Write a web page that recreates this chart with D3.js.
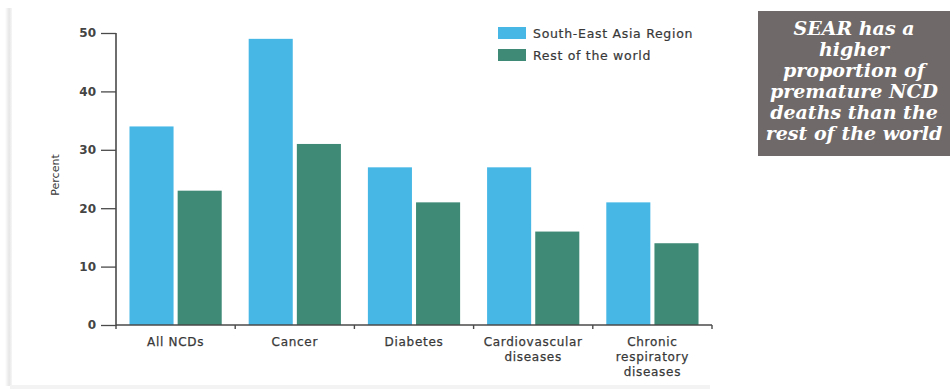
<!DOCTYPE html>
<html>
<head>
<meta charset="utf-8">
<script src="https://cdn.jsdelivr.net/npm/d3@7"></script>
<style>
  html, body { margin: 0; padding: 0; background: #fff; }
  svg { display: block; }
</style>
</head>
<body>
<svg id="chart" width="950" height="389"></svg>
<script>
// Share of NCD deaths that are premature, by cause
const categories = [
  ["All NCDs"],
  ["Cancer"],
  ["Diabetes"],
  ["Cardiovascular", "diseases"],
  ["Chronic", "respiratory", "diseases"]
];
const seriesNames = ["South-East Asia Region", "Rest of the world"];
const searValues = [34, 49, 27, 27, 21];
const restValues = [23, 31, 21, 16, 14];
const yTicks = [0, 10, 20, 30, 40, 50];
const noteLines = [
  "SEAR has a",
  "higher",
  "proportion of",
  "premature NCD",
  "deaths than the",
  "rest of the world"
];

const colors = ["#47b8e6", "#3e8a76"];
const axisColor = "#4a4a4a";
const textColor = "#383838";
const font = "'DejaVu Sans', sans-serif";

const svg = d3.select("#chart");

// panel edge shading
const defs = svg.append("defs");
const lg = defs.append("linearGradient").attr("id", "edge").attr("x1", 0).attr("x2", 1);
lg.append("stop").attr("offset", 0).attr("stop-color", "#fff");
lg.append("stop").attr("offset", 0.6).attr("stop-color", "#e6e6e6");
lg.append("stop").attr("offset", 1).attr("stop-color", "#f6f6f6");
svg.append("rect").attr("x", 5).attr("y", 8).attr("width", 7).attr("height", 378).attr("fill", "url(#edge)");
svg.append("rect").attr("x", 10).attr("y", 385).attr("width", 700).attr("height", 4).attr("fill", "#f3f3f3");

const keys = categories.map(c => c.join(" "));
const x0 = d3.scaleBand().domain(keys).range([116, 712]);
const x1 = d3.scaleBand().domain(seriesNames).range([0, x0.bandwidth()])
  .paddingInner(0.085).paddingOuter(0.28);
const y = d3.scaleLinear().domain([0, 50]).range([325, 33]);

// bars
const groups = svg.append("g").selectAll("g")
  .data(keys)
  .join("g")
  .attr("transform", d => `translate(${x0(d)},0)`);

groups.selectAll("rect")
  .data((d, i) => [
    { s: seriesNames[0], v: searValues[i], c: colors[0] },
    { s: seriesNames[1], v: restValues[i], c: colors[1] }
  ])
  .join("rect")
  .attr("x", d => x1(d.s))
  .attr("width", x1.bandwidth())
  .attr("y", d => y(d.v))
  .attr("height", d => y(0) - y(d.v))
  .attr("fill", d => d.c);

// y axis
const yAxis = svg.append("g")
  .attr("transform", "translate(116,0)")
  .call(d3.axisLeft(y).tickValues(yTicks).tickSize(15).tickPadding(5));
yAxis.select(".domain").attr("stroke", axisColor).attr("stroke-width", 1.6)
  .attr("d", `M0,${y(50)}V${y(0) + 1}`);
yAxis.selectAll(".tick line").attr("stroke", axisColor).attr("stroke-width", 1.3);
yAxis.selectAll(".tick text")
  .attr("fill", "#444")
  .style("font-family", font)
  .style("font-size", "12px")
  .style("font-weight", "bold");

// x axis with boundary ticks
const boundaries = keys.map(k => x0(k)).concat([x0.range()[1]]);
const xAxis = svg.append("g").attr("transform", `translate(0,${y(0)})`);
xAxis.append("line")
  .attr("x1", 116).attr("x2", 712)
  .attr("stroke", axisColor).attr("stroke-width", 1.6);
xAxis.selectAll("line.b")
  .data(boundaries)
  .join("line")
  .attr("class", "b")
  .attr("x1", d => d).attr("x2", d => d)
  .attr("y1", 0).attr("y2", 4)
  .attr("stroke", axisColor).attr("stroke-width", 1.4);

// category labels
svg.append("g").selectAll("text")
  .data(categories)
  .join("text")
  .attr("x", (d, i) => x0(keys[i]) + x0.bandwidth() / 2)
  .attr("y", 346)
  .attr("text-anchor", "middle")
  .attr("fill", textColor)
  .style("font-family", font)
  .style("font-size", "12px")
  .style("letter-spacing", "0.7px")
  .style("stroke", textColor)
  .style("stroke-width", "0.25px")
  .selectAll("tspan")
  .data(d => d)
  .join("tspan")
  .attr("x", function () { return this.parentNode.getAttribute("x"); })
  .attr("dy", (d, i) => i === 0 ? 0 : 15)
  .text(d => d);

// y axis title
svg.append("text")
  .attr("transform", "translate(59,175) rotate(-90)")
  .attr("text-anchor", "middle")
  .attr("fill", textColor)
  .style("font-family", font)
  .style("font-size", "11px")
  .text("Percent");

// legend
const legend = svg.append("g").selectAll("g")
  .data(seriesNames)
  .join("g")
  .attr("transform", (d, i) => `translate(498,${27 + i * 22})`);
legend.append("rect")
  .attr("width", 28).attr("height", 12)
  .attr("fill", (d, i) => colors[i]);
legend.append("text")
  .attr("x", 35).attr("y", 10.5)
  .attr("fill", textColor)
  .style("font-family", font)
  .style("font-size", "12.5px")
  .style("letter-spacing", "0.7px")
  .style("stroke", textColor)
  .style("stroke-width", "0.2px")
  .text(d => d);

// callout box
svg.append("rect")
  .attr("x", 758).attr("y", 11)
  .attr("width", 192).attr("height", 145)
  .attr("fill", "#6f6a69");
svg.append("g").selectAll("text")
  .data(noteLines)
  .join("text")
  .attr("x", 854)
  .attr("y", (d, i) => 35 + i * 21)
  .attr("text-anchor", "middle")
  .attr("fill", "#ffffff")
  .style("font-family", "'DejaVu Serif', serif")
  .style("font-style", "italic")
  .style("font-weight", "bold")
  .style("font-size", "19px")
  .text(d => d);
</script>
</body>
</html>
